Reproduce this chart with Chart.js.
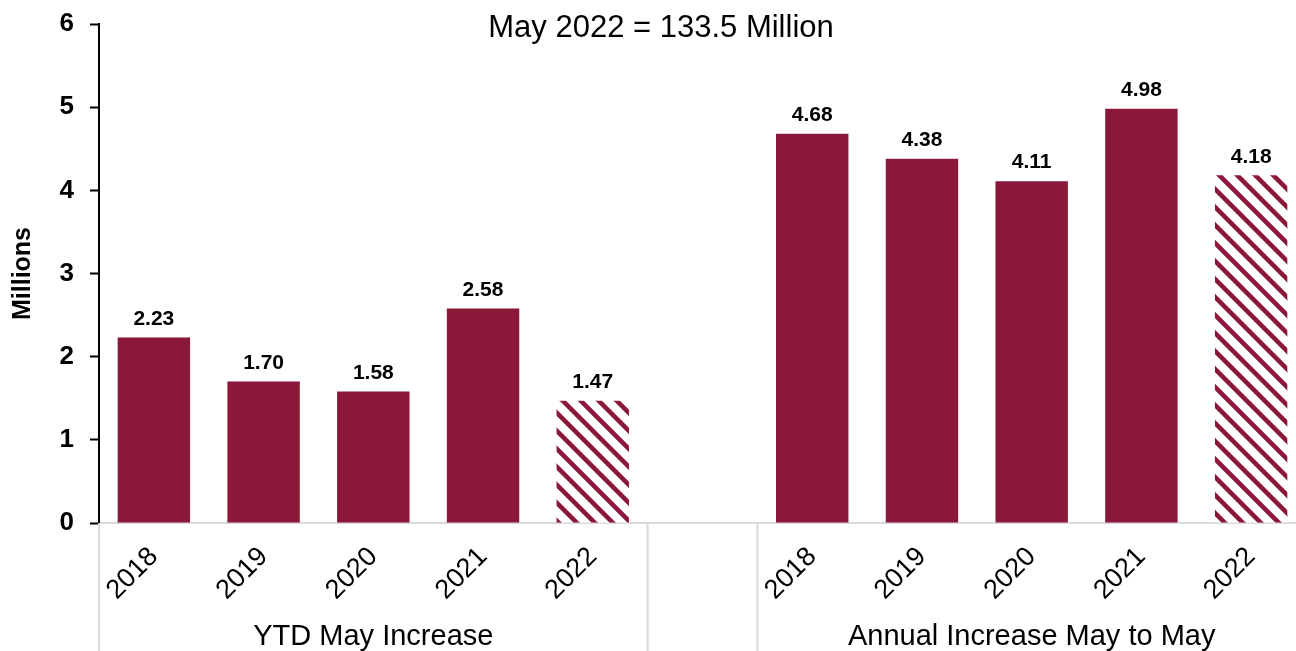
<!DOCTYPE html>
<html>
<head>
<meta charset="utf-8">
<script src="https://cdn.jsdelivr.net/npm/chart.js@4"></script>
<style>
    html, body { margin: 0; padding: 0; background: #fff; overflow: hidden; }
    #wrap { width: 1310px; height: 651px; position: relative; }
</style>
</head>
<body>
<div id="wrap"><canvas id="growthChart"></canvas></div>
<script>
// data
var years = ["2018", "2019", "2020", "2021", "2022"];
var ytdValues = [2.23, 1.70, 1.58, 2.58, 1.47];
var annualValues = [4.68, 4.38, 4.11, 4.98, 4.18];
var groupNames = ["YTD May Increase", "Annual Increase May to May"];
var yTicks = [0, 1, 2, 3, 4, 5, 6];
var titleText = "May 2022 = 133.5 Million";

var maroon = "#8A1838";
var font = "Arial, 'Liberation Sans', sans-serif";

// striped fill for the 2022 bars
function makeStripes() {
    var c = document.createElement("canvas");
    c.width = 18;
    c.height = 18;
    var g = c.getContext("2d");
    g.fillStyle = "#fff";
    g.fillRect(0, 0, 18, 18);
    g.strokeStyle = maroon;
    g.lineWidth = 4.5;
    g.beginPath();
    g.moveTo(-9, -9); g.lineTo(27, 27);
    g.moveTo(-9, 9); g.lineTo(9, 27);
    g.moveTo(9, -9); g.lineTo(27, 9);
    g.stroke();
    return g.createPattern(c, "repeat");
}
var stripes = makeStripes();

// 11 slots: 5 years, an empty gap, 5 years
var labels = years.concat([""]).concat(years);
var values = ytdValues.concat([null]).concat(annualValues);
var colors = labels.map(function (l, i) {
    return l === "2022" ? stripes : maroon;
});
var groups = [
    { name: groupNames[0], from: 0, to: 4 },
    { name: groupNames[1], from: 6, to: 10 },
];

const extras = {
    id: "extras",
    afterDatasetsDraw(chart) {
        const { ctx, chartArea } = chart;
        const x = chart.scales.x;
        const meta = chart.getDatasetMeta(0);
        ctx.save();
        // value labels
        ctx.fillStyle = "#000";
        ctx.font = "bold 21px " + font;
        ctx.textAlign = "center";
        ctx.textBaseline = "bottom";
        meta.data.forEach(function (bar, i) {
            if (values[i] == null) return;
            ctx.fillText(values[i].toFixed(2), bar.x, bar.y - 8);
        });
        // title
        ctx.font = "31px " + font;
        ctx.textBaseline = "middle";
        ctx.fillText(titleText, 661, 28);
        // group separators + group names
        var half = (x.getPixelForValue(1) - x.getPixelForValue(0)) / 2;
        ctx.strokeStyle = "#d9d9d9";
        ctx.lineWidth = 2;
        var cuts = [x.getPixelForValue(0) - half, x.getPixelForValue(4) + half,
                    x.getPixelForValue(6) - half, x.getPixelForValue(10) + half];
        cuts.forEach(function (cx) {
            ctx.beginPath();
            ctx.moveTo(cx, chartArea.bottom);
            ctx.lineTo(cx, chart.height);
            ctx.stroke();
        });
        ctx.font = "29px " + font;
        groups.forEach(function (gr) {
            var cx = (x.getPixelForValue(gr.from) + x.getPixelForValue(gr.to)) / 2;
            ctx.fillText(gr.name, cx, 637);
        });
        ctx.restore();
    },
};

var ctx = document.getElementById("growthChart");
var myBarChart = new Chart(ctx, {
    type: "bar",
    data: {
        labels: labels,
        datasets: [
            {
                data: values,
                backgroundColor: colors,
                borderWidth: 0,
                categoryPercentage: 1,
                barPercentage: 0.66,
            },
        ],
    },
    options: {
        responsive: true,
        maintainAspectRatio: false,
        animation: false,
        layout: { padding: { top: 24, right: 4, left: 0, bottom: 0 } },
        plugins: {
            legend: { display: false },
            tooltip: { enabled: false },
        },
        scales: {
            x: {
                afterFit: function (s) {
                    s.height = 128;
                    s.paddingLeft = 0;
                    s.paddingRight = 0;
                },
                grid: { display: false },
                border: { color: "#d9d9d9", width: 2 },
                ticks: {
                    minRotation: 45,
                    maxRotation: 45,
                    padding: 10,
                    color: "#000",
                    font: { family: font, size: 27 },
                },
            },
            y: {
                min: 0,
                max: 6,
                afterFit: function (s) {
                    s.width = 99;
                    s.paddingTop = 0;
                    s.paddingBottom = 0;
                },
                afterBuildTicks: function (s) {
                    s.ticks = yTicks.map(function (v) { return { value: v }; });
                },
                grid: { drawOnChartArea: false, tickLength: 9, tickColor: "#000", tickWidth: 2 },
                border: { color: "#000", width: 2 },
                ticks: {
                    padding: 16,
                    color: "#000",
                    font: { family: font, size: 26, weight: "bold" },
                },
                title: {
                    display: true,
                    text: "Millions",
                    color: "#000",
                    padding: { top: 8, bottom: 0 },
                    font: { family: font, size: 25, weight: "bold" },
                },
            },
        },
    },
    plugins: [extras],
});
</script>
</body>
</html>
